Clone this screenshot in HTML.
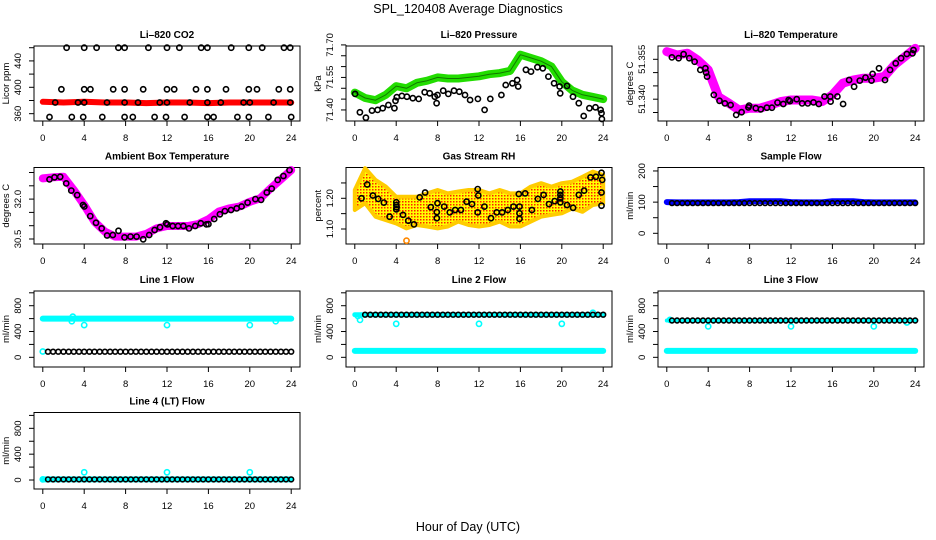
<!DOCTYPE html>
<html><head><meta charset="utf-8"><style>
html,body{margin:0;padding:0;background:#fff;}
svg{display:block;font-family:"Liberation Sans",Arial,sans-serif;}
</style></head><body>
<svg id="chart" width="936" height="540" viewBox="0 0 936 540">
<defs>
<pattern id="rhpat" width="3" height="3" patternUnits="userSpaceOnUse">
<rect width="3" height="3" fill="#ffff00"/><rect x="0" y="0" width="1.5" height="1.5" fill="#ff2000"/>
</pattern>
</defs>
<text x="468" y="13" text-anchor="middle" font-size="12.5">SPL_120408  Average Diagnostics</text>
<text x="468" y="531" text-anchor="middle" font-size="12.5">Hour of Day (UTC)</text>
</svg>
<script>
// ---------- shared data ----------
const halfHours = [0.5,1,1.5,2,2.5,3,3.5,4,4.5,5,5.5,6,6.5,7,7.5,8,8.5,9,9.5,10,10.5,11,11.5,12,12.5,13,13.5,14,14.5,15,15.5,16,16.5,17,17.5,18,18.5,19,19.5,20,20.5,21,21.5,22,22.5,23,23.5,24];
const hours = [0,1,2,3,4,5,6,7,8,9,10,11,12,13,14,15,16,17,18,19,20,21,22,23,24];
const xTicks = [0,4,8,12,16,20,24];

// CO2
const co2Hours = [2.3,4.0,5.2,7.3,7.9,10.2,12.0,13.2,15.3,15.9,18.2,19.9,21.2,23.3,23.9, 1.8,4.0,4.6,6.8,7.9,9.7,12.0,12.7,14.8,15.9,17.7,19.9,20.7,22.8,23.9, 1.2,3.4,4.0,6.2,7.9,9.2,11.3,12.0,14.2,15.9,17.2,19.4,20.0,22.3,23.9, 0.65,2.8,3.9,5.75,7.9,8.7,10.8,11.9,13.7,15.9,16.5,18.8,19.9,21.8,24.0];
const co2Values = [460,460,460,460,460,460,460,460,460,460,460,460,460,460,460, 397,397,397,397,397,397,397,397,397,397,397,397,397,397,397, 377,377,377,377,377,377,377,377,377,377,377,377,377,377,377, 355,355,355,355,355,355,355,355,355,355,355,355,355,355,355];
const co2RedHours = [0,2,4,6,8,10,12,14,16,18,20,22,24];
const co2Red = [378,377,378,377,377,376,377,377,376,377,377,377,377];

// Pressure
const presGreen = [71.48,71.455,71.445,71.47,71.51,71.50,71.525,71.535,71.55,71.545,71.545,71.55,71.555,71.565,71.57,71.58,71.655,71.64,71.625,71.60,71.53,71.49,71.47,71.46,71.45];
const presHours = [0.03,0.49,1.07,1.66,2.2,2.7,3.25,3.83,3.93,4.06,4.55,5.03,5.6,6.17,6.75,7.24,7.73,7.9,7.99,8.54,9.03,9.58,10.1,10.65,11.14,11.89,12.54,13.09,14.16,14.58,15.23,15.69,15.79,16.53,17.02,17.64,18.16,18.71,19.26,19.79,19.85,20.5,21.08,21.64,22.12,22.67,23.26,23.75,23.84,23.87];
const presValues = [71.474,71.389,71.364,71.397,71.40,71.408,71.423,71.408,71.442,71.459,71.465,71.461,71.454,71.451,71.482,71.477,71.461,71.431,71.469,71.489,71.474,71.489,71.484,71.469,71.446,71.451,71.40,71.451,71.469,71.515,71.523,71.538,71.508,71.585,71.577,71.597,71.592,71.554,71.523,71.508,71.477,71.511,71.461,71.431,71.372,71.408,71.412,71.40,71.385,71.358];

// Li-820 temperature
const ltMagenta = [51.3579,51.3566,51.3573,51.3547,51.3510,51.3409,51.3385,51.3359,51.3366,51.3366,51.3378,51.3391,51.3397,51.3397,51.3397,51.3391,51.3416,51.3460,51.3472,51.3479,51.3479,51.3485,51.3529,51.3560,51.3591];
const ltHours = [0.49,1.14,1.62,2.17,2.69,3.24,3.73,3.8,3.89,4.54,5.09,5.61,6.16,6.71,7.23,7.88,7.95,8.6,9.08,9.67,10.15,10.7,11.26,11.77,11.9,12.55,13.07,13.62,14.17,14.69,15.24,15.8,15.83,16.48,17.03,17.61,18.1,18.65,19.2,19.78,19.88,20.5,21.08,21.57,22.12,22.64,23.19,23.74,23.84];
const ltValues = [51.3557,51.3554,51.3569,51.3554,51.3541,51.3510,51.3516,51.3500,51.3485,51.3416,51.3394,51.3384,51.3378,51.3341,51.3351,51.3369,51.3376,51.3366,51.3362,51.3368,51.3368,51.3387,51.3382,51.3397,51.3393,51.3400,51.3384,51.3384,51.3388,51.3382,51.3410,51.3410,51.3391,51.3410,51.3382,51.3472,51.3447,51.3470,51.3481,51.3470,51.3495,51.3516,51.3472,51.3510,51.3535,51.3554,51.3570,51.3572,51.3585];

// Ambient box temperature
const abMagenta = [32.78,32.82,32.84,32.34,31.78,31.15,30.78,30.59,30.59,30.59,30.69,30.90,30.99,30.99,30.99,31.06,31.24,31.53,31.65,31.72,31.90,32.03,32.40,32.74,33.09];
const abHours = [0.65,1.13,1.68,2.26,2.75,3.32,3.88,4.01,4.59,5.14,5.69,6.21,6.76,7.31,7.89,8.47,9.06,9.7,10.28,10.8,11.32,11.9,12.03,12.55,13.07,13.58,14.13,14.72,15.27,15.81,16.0,16.56,17.11,17.59,18.18,18.73,19.21,19.79,20.54,21.09,21.64,22.12,22.7,23.25,23.84];
const abValues = [32.74,32.82,32.84,32.59,32.32,32.15,31.78,31.72,31.36,31.11,30.90,30.63,30.65,30.81,30.56,30.59,30.59,30.49,30.65,30.84,30.94,31.09,31.05,30.99,30.99,30.99,30.90,30.99,31.09,31.05,31.06,31.25,31.43,31.55,31.59,31.65,31.72,31.87,32.0,31.97,32.25,32.39,32.72,32.87,33.09];

// Gas stream RH
const rhUpper = [1.227,1.298,1.260,1.238,1.205,1.205,1.205,1.216,1.227,1.216,1.222,1.227,1.227,1.216,1.227,1.216,1.216,1.238,1.249,1.238,1.249,1.254,1.270,1.287,1.276];
const rhLower = [1.162,1.184,1.140,1.129,1.118,1.102,1.113,1.108,1.102,1.108,1.124,1.113,1.108,1.113,1.124,1.108,1.108,1.124,1.140,1.146,1.151,1.167,1.156,1.178,1.184];
const rhHours = [0.65,1.2,1.75,2.26,2.81,3.36,4.01,4.01,4.04,4.01,4.66,5.17,5.72,6.27,6.79,7.34,7.92,7.92,7.99,8.64,9.18,9.7,10.25,10.8,11.32,11.87,11.93,11.87,12.52,13.16,13.71,14.23,14.78,15.33,15.85,15.91,15.91,15.91,16.46,17.11,17.69,18.24,18.76,19.31,19.86,19.86,19.86,19.86,20.5,21.09,21.64,22.15,22.77,23.29,23.84,23.9,23.84,23.84];
const rhValues = [1.200,1.245,1.209,1.198,1.186,1.140,1.187,1.178,1.171,1.164,1.146,1.127,1.115,1.203,1.219,1.171,1.135,1.155,1.184,1.173,1.154,1.162,1.162,1.189,1.181,1.230,1.209,1.154,1.173,1.135,1.154,1.154,1.162,1.173,1.214,1.173,1.151,1.133,1.216,1.162,1.198,1.211,1.181,1.191,1.222,1.211,1.200,1.187,1.178,1.169,1.211,1.225,1.268,1.270,1.283,1.260,1.219,1.176];
const rhOutlierHours = [5.0];
const rhOutlierValues = [1.062];

// Sample flow
const sfBlue = [100,99,99,99,99,99,99,100,103,103,103,103,100,99,99,99,103,103,103,100,99,99,99,99,99];
const sfBlack = [97,97,97,97,97,97,97,97,97,97,97,97,97,97,97,97,97,97,97,97,97,97,97,97,97,97,97,97,97,97,97,97,97,97,97,97,97,97,97,97,97,97,97,97,97,97,97,97];

// Line flows
const l1Cyan = [600,600,600,600,600,600,600,600,600,600,600,600,600,600,600,600,600,600,600,600,600,600,600,600,600];
const l1Black = [87,87,87,87,87,87,87,87,87,87,87,87,87,87,87,87,87,87,87,87,87,87,87,87,87,87,87,87,87,87,87,87,87,87,87,87,87,87,87,87,87,87,87,87,87,87,87,87];
const l1OutHours = [0,2.8,2.9,4,12,20,22.5];
const l1OutValues = [90,560,630,500,500,500,560];

const l2CyanLow = [100,100,100,100,100,100,100,100,100,100,100,100,100,100,100,100,100,100,100,100,100,100,100,100,100];
const l2CyanHigh = [660,660,660,660,660,660,660,660,660,660,660,660,660,660,660,660,660,660,660,660,660,660,660,660,660];
const l2Black = [660,660,660,660,660,660,660,660,660,660,660,660,660,660,660,660,660,660,660,660,660,660,660,660,660,660,660,660,660,660,660,660,660,660,660,660,660,660,660,660,660,660,660,660,660,660,660,660];
const l2OutHours = [0.3,0.5,4,12,20,23];
const l2OutValues = [640,580,520,520,520,690];

const l3CyanLow = [100,100,100,100,100,100,100,100,100,100,100,100,100,100,100,100,100,100,100,100,100,100,100,100,100];
const l3CyanHigh = [570,570,570,570,570,570,570,570,570,570,570,570,570,570,570,570,570,570,570,570,570,570,570,570,570];
const l3Black = [570,570,570,570,570,570,570,570,570,570,570,570,570,570,570,570,570,570,570,570,570,570,570,570,570,570,570,570,570,570,570,570,570,570,570,570,570,570,570,570,570,570,570,570,570,570,570,570];
const l3OutHours = [0.3,4,12,20,23.2];
const l3OutValues = [580,480,480,480,540];

const l4Cyan = [10,10,10,10,10,10,10,10,10,10,10,10,10,10,10,10,10,10,10,10,10,10,10,10,10];
const l4Black = [10,10,10,10,10,10,10,10,10,10,10,10,10,10,10,10,10,10,10,10,10,10,10,10,10,10,10,10,10,10,10,10,10,10,10,10,10,10,10,10,10,10,10,10,10,10,10,10];
const l4OutHours = [0,4,12,20];
const l4OutValues = [10,120,120,120];

// ---------- drawing ----------
const NS = 'http://www.w3.org/2000/svg';
const svg = document.getElementById('chart');
function mk(tag, parent, attrs){
  const e = document.createElementNS(NS, tag);
  for (const k in attrs) e.setAttribute(k, attrs[k]);
  parent.appendChild(e);
  return e;
}
function makePanel(slug, title, x0, y0, y1, dom, yTicks, yLabels, yTitle){
  const g = mk('g', svg, {});
  
  
  const W = 266;
  const sx = h => x0 + (h + 0.85) * W / 25.7;
  const sy = v => y1 - (v - dom[0]) / (dom[1] - dom[0]) * (y1 - y0);
  const t = mk('text', g, {x: x0 + W/2, y: y0 - 8, 'text-anchor':'middle', 'font-size':'10', 'font-weight':'bold'});
  t.textContent = title;
  
  
  const box = mk('rect', g, {x:x0, y:y0, width:W, height:y1-y0, fill:'none', stroke:'#000', 'stroke-width':'1'});
  
  
  const xa = mk('g', g, {});
  
  
  mk('line', xa, {x1:sx(0), x2:sx(24), y1:y1, y2:y1, stroke:'#000'});
  xTicks.forEach(h => {
    mk('line', xa, {x1:sx(h), x2:sx(h), y1:y1, y2:y1+5, stroke:'#000'});
    const l = mk('text', xa, {x:sx(h), y:y1+20, 'text-anchor':'middle', 'font-size':'9.5'});
    l.textContent = h;
    
    
  });
  const ya = mk('g', g, {});
  
  
  mk('line', ya, {x1:x0, x2:x0, y1:sy(yTicks[0]), y2:sy(yTicks[yTicks.length-1]), stroke:'#000'});
  yTicks.forEach(v => {
    mk('line', ya, {x1:x0-5, x2:x0, y1:sy(v), y2:sy(v), stroke:'#000'});
  });
  yLabels.forEach(v => {
    const yy = sy(parseFloat(v));
    const l = mk('text', ya, {x:x0-13, y:yy, 'text-anchor':'middle', 'font-size':'9.5', transform:'rotate(-90 '+(x0-13)+' '+yy+')'});
    l.textContent = v;
    
    
  });
  const yt = mk('text', g, {x:x0-25, y:(y0+y1)/2, 'text-anchor':'middle', 'font-size':'9.5', transform:'rotate(-90 '+(x0-25)+' '+((y0+y1)/2)+')'});
  yt.textContent = yTitle;
  
  
  const clip = mk('g', g, {});
  return {g, sx, sy};
}
function band(p, hs, vs, color, width, name){
  const pts = hs.map((h,i) => p.sx(h).toFixed(1)+','+p.sy(vs[i]).toFixed(1)).join(' ');
  const e = mk('polyline', p.g, {points:pts, fill:'none', stroke:color, 'stroke-width':width, 'stroke-linejoin':'round', 'stroke-linecap':'round'});
  
  
}
function dots(p, hs, vs, color, name, r){
  const g = mk('g', p.g, {});
  
  
  hs.forEach((h,i) => {
    const c = mk('circle', g, {cx:p.sx(h).toFixed(1), cy:p.sy(vs[i]).toFixed(1), r:r||2.6, fill:'none', stroke:color, 'stroke-width':'1.6'});
    
    
  });
}

const R1=[46,121], R2=[167.5,244], R3=[291,367], R4=[412.5,489];
const C1=34, C2=346, C3=658;

// CO2
let p = makePanel('co2', 'Li\u2013820 CO2', C1, R1[0], R1[1], [348.9,462.6], [360,380,400,420,440,460], ['360','400','440'], 'Licor ppm');
band(p, co2RedHours, co2Red, '#ff0000', 6, 'co2-red-series');
dots(p, co2Hours, co2Values, '#000', 'co2-black-series');

// Pressure
p = makePanel('pressure', 'Li\u2013820 Pressure', C2, R1[0], R1[1], [71.349,71.695], [71.40,71.45,71.50,71.55,71.60,71.65,71.70], ['71.40','71.55','71.70'], 'kPa');
band(p, hours, presGreen, '#22dd00', 8, 'pressure-green-series');
band(p, hours, presGreen, '#117700', 1, 'pressure-green-core');
dots(p, presHours, presValues, '#000', 'pressure-black-series');

// Li-820 temperature
p = makePanel('licor-temp', 'Li\u2013820 Temperature', C3, R1[0], R1[1], [51.3318,51.3600], [51.335,51.340,51.345,51.350,51.355], ['51.340','51.355'], 'degrees C');
band(p, hours, ltMagenta, '#ff00ff', 9, 'licor-temp-magenta-series');
dots(p, ltHours, ltValues, '#000', 'licor-temp-black-series');

// Ambient
p = makePanel('ambient', 'Ambient Box Temperature', C1, R2[0], R2[1], [30.312,33.188], [30.5,31.0,31.5,32.0,32.5,33.0], ['30.5','32.0'], 'degrees C');
band(p, hours, abMagenta, '#ff00ff', 8, 'ambient-magenta-series');
dots(p, abHours, abValues, '#000', 'ambient-black-series');

// RH
p = makePanel('rh', 'Gas Stream RH', C2, R2[0], R2[1], [1.0511,1.3003], [1.10,1.15,1.20,1.25], ['1.10','1.20'], 'percent');
{
  const up = hours.map((h,i)=>p.sx(h).toFixed(1)+','+p.sy(rhUpper[i]).toFixed(1));
  const lo = hours.map((h,i)=>p.sx(h).toFixed(1)+','+p.sy(rhLower[i]).toFixed(1)).reverse();
  const poly = mk('polygon', p.g, {points: up.concat(lo).join(' '), fill:'url(#rhpat)', stroke:'#ffcc00', 'stroke-width':'4', 'stroke-linejoin':'round'});
  
  
}
dots(p, rhOutlierHours, rhOutlierValues, '#ff8800', 'rh-outlier');
dots(p, rhHours, rhValues, '#000', 'rh-black-series');

// Sample flow
p = makePanel('sample-flow', 'Sample Flow', C3, R2[0], R2[1], [-34.3,211.1], [0,50,100,150,200], ['0','100','200'], 'ml/min');
band(p, hours, sfBlue, '#0000ff', 6, 'sample-flow-blue-series');
dots(p, halfHours, sfBlack, '#000', 'sample-flow-black-series', 2.4);

const flowDom = [-150,1028], flowTicks=[0,200,400,600,800,1000], flowLabels=['0','400','800'];
// Line 1
p = makePanel('line1', 'Line 1 Flow', C1, R3[0], R3[1], flowDom, flowTicks, flowLabels, 'ml/min');
band(p, hours, l1Cyan, '#00ffff', 6, 'line1-cyan-series');
dots(p, l1OutHours, l1OutValues, '#00ffff', 'line1-cyan-outliers');
dots(p, halfHours, l1Black, '#000', 'line1-black-series', 2.4);

// Line 2
p = makePanel('line2', 'Line 2 Flow', C2, R3[0], R3[1], flowDom, flowTicks, flowLabels, 'ml/min');
band(p, hours, l2CyanLow, '#00ffff', 6, 'line2-cyan-low-series');
band(p, hours, l2CyanHigh, '#00ffff', 5, 'line2-cyan-high-series');
dots(p, l2OutHours, l2OutValues, '#00ffff', 'line2-cyan-outliers');
dots(p, halfHours.slice(1), l2Black.slice(1), '#000', 'line2-black-series', 2.4);

// Line 3
p = makePanel('line3', 'Line 3 Flow', C3, R3[0], R3[1], flowDom, flowTicks, flowLabels, 'ml/min');
band(p, hours, l3CyanLow, '#00ffff', 6, 'line3-cyan-low-series');
band(p, hours, l3CyanHigh, '#00ffff', 4, 'line3-cyan-high-series');
dots(p, l3OutHours, l3OutValues, '#00ffff', 'line3-cyan-outliers');
dots(p, halfHours, l3Black, '#000', 'line3-black-series', 2.4);

// Line 4
p = makePanel('line4', 'Line 4 (LT) Flow', C1, R4[0], R4[1], [-139,1045], flowTicks, flowLabels, 'ml/min');
band(p, hours, l4Cyan, '#00ffff', 6, 'line4-cyan-series');
dots(p, l4OutHours, l4OutValues, '#00ffff', 'line4-cyan-outliers');
dots(p, halfHours, l4Black, '#000', 'line4-black-series', 2.4);
</script>
</body></html>
